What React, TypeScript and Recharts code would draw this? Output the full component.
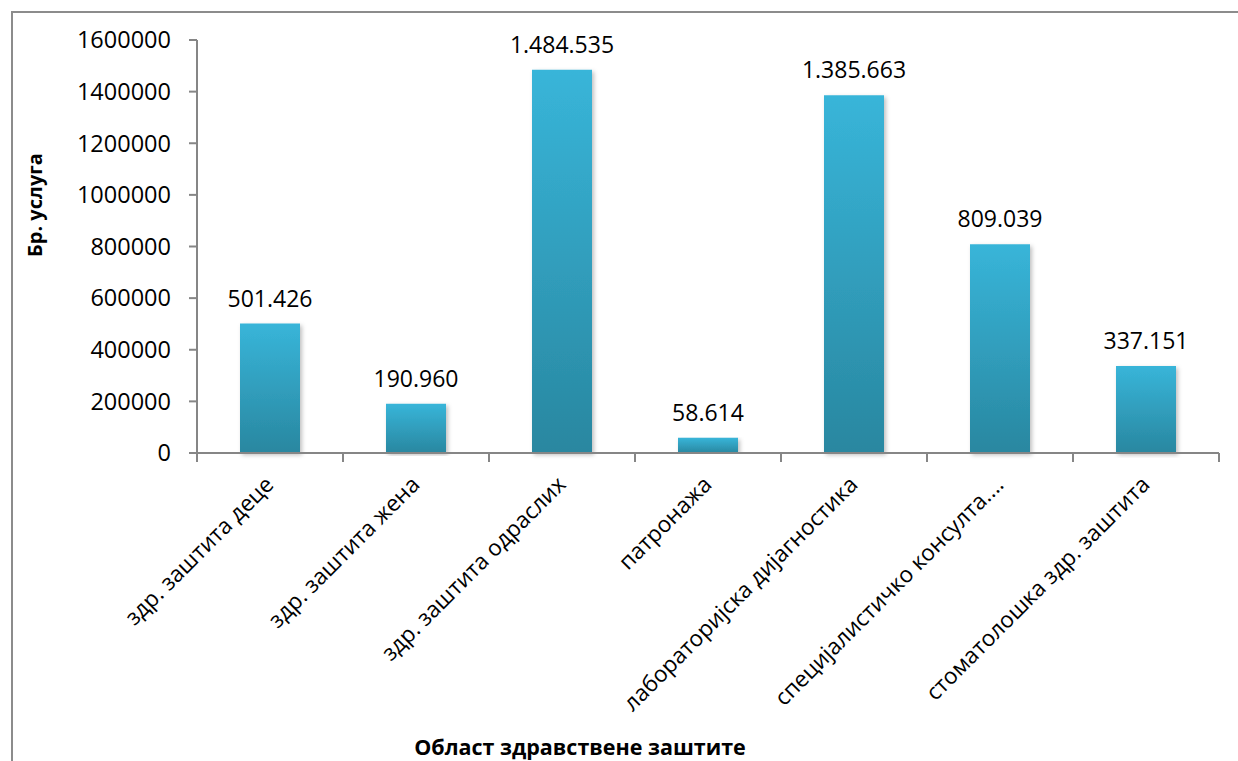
import React from "react";
import { BarChart, Bar, XAxis, YAxis, LabelList, Label } from "recharts";

const categories = [
  "здр. заштита деце",
  "здр. заштита жена",
  "здр. заштита одраслих",
  "патронажа",
  "лабораторијска дијагностика",
  "специјалистичко консулта....",
  "стоматолошка здр. заштита",
];
const services = [501426, 190960, 1484535, 58614, 1385663, 809039, 337151];
const yTicks = [0, 200000, 400000, 600000, 800000, 1000000, 1200000, 1400000, 1600000];

const data = categories.map((name, i) => ({ name, value: services[i] }));

const FONT = "'Open Sans', 'Noto Sans', sans-serif";
const AXIS = "#868686";

const fmt = (v: number) => String(v).replace(/\B(?=(\d{3})+(?!\d))/g, ".");

const XTick = (props: any) => {
  const { x, y, payload, index } = props;
  const half = payload && payload.offset ? payload.offset : 73;
  const axisY = y - 2;
  return (
    <g>
      <line x1={x - half} y1={axisY} x2={x - half} y2={axisY + 9} stroke={AXIS} strokeWidth={2} />
      {index === categories.length - 1 && (
        <line x1={x + half} y1={axisY} x2={x + half} y2={axisY + 9} stroke={AXIS} strokeWidth={2} />
      )}
      <text
        x={x + 5}
        y={axisY + 33}
        textAnchor="end"
        fontFamily={FONT}
        fontSize={22.5}
        fill="#000"
        transform={`rotate(-45, ${x + 5}, ${axisY + 33})`}
      >
        {payload.value}
      </text>
    </g>
  );
};

const App: React.FC = () => {
  return (
    <div style={{ position: "absolute", left: 0, top: 0, width: 1238, height: 761, overflow: "hidden", background: "#fff" }}>
      <div
        style={{
          position: "absolute",
          left: 11,
          top: 11,
          width: 1260,
          height: 800,
          border: "2px solid #8c8c8c",
          boxSizing: "border-box",
        }}
      />
      <div style={{ position: "absolute", left: 0, top: 0 }}>
        <BarChart
          width={1238}
          height={761}
          data={data}
          margin={{ top: 40, right: 19, bottom: 0, left: 0 }}
          barCategoryGap={0}
        >
          <defs>
            <linearGradient id="barGrad" x1="0" y1="0" x2="0" y2="1">
              <stop offset="0%" stopColor="#38b5d9" />
              <stop offset="100%" stopColor="#2987a0" />
            </linearGradient>
            <filter id="barShadow" x="-20%" y="-5%" width="140%" height="110%">
              <feDropShadow dx="2" dy="2" stdDeviation="2" floodColor="#000" floodOpacity="0.25" />
            </filter>
          </defs>
          <XAxis
            dataKey="name"
            interval={0}
            height={308}
            axisLine={{ stroke: AXIS, strokeWidth: 2 }}
            tickLine={false}
            tickSize={0}
            tickMargin={2}
            tick={<XTick />}
          >
            <Label
              content={() => (
                <text x={580} y={755} textAnchor="middle" fontFamily={FONT} fontSize={21.5} fontWeight="bold" fill="#000">
                  Област здравствене заштите
                </text>
              )}
            />
          </XAxis>
          <YAxis
            width={197}
            domain={[0, 1600000]}
            ticks={yTicks}
            interval={0}
            axisLine={{ stroke: AXIS, strokeWidth: 2 }}
            tickLine={{ stroke: AXIS, strokeWidth: 2 }}
            tickSize={8}
            tickMargin={18}
            tick={{ fontFamily: FONT, fontSize: 23.5, fill: "#000" }}
          >
            <Label
              content={() => (
                <text
                  x={42}
                  y={205}
                  textAnchor="middle"
                  fontFamily={FONT}
                  fontSize={20}
                  fontWeight="bold"
                  fill="#000"
                  transform="rotate(-90, 42, 205)"
                >
                  Бр. услуга
                </text>
              )}
            />
          </YAxis>
          <Bar dataKey="value" fill="url(#barGrad)" barSize={60} filter="url(#barShadow)" isAnimationActive={false}>
            <LabelList
              dataKey="value"
              position="top"
              offset={17}
              formatter={(v: any) => fmt(Number(v))}
              style={{ fontFamily: FONT, fontSize: 23, fill: "#000" }}
            />
          </Bar>
        </BarChart>
      </div>
    </div>
  );
};

export default App;
